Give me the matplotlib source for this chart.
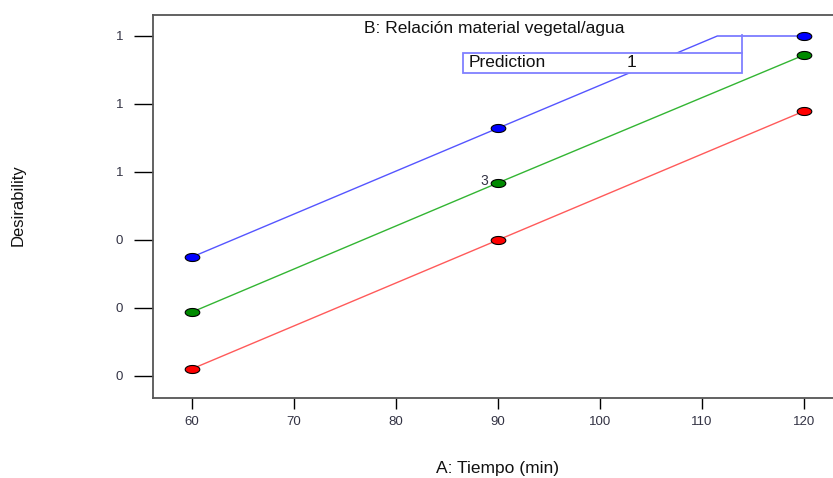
import numpy as np
import matplotlib
matplotlib.use("Agg")
import matplotlib.pyplot as plt
from matplotlib.path import Path
from matplotlib.patches import Rectangle

plt.rcParams['font.family'] = ['Liberation Sans', 'DejaVu Sans']

# Data
x_pts = [60, 90, 120]
blue_x = [60, 90, 111.5, 120]
blue_y = [0.35, 0.729, 1.0, 1.0]
green_x = [60, 90, 120]
green_y = [0.188, 0.568, 0.944]
red_x = [60, 90, 120]
red_y = [0.021, 0.40, 0.779]
xticks = [60, 70, 80, 90, 100, 110, 120]
yticks = [0.0, 0.2, 0.4, 0.6, 0.8, 1.0]
ytick_labels = ["0", "0", "0", "1", "1", "1"]
title = "B: Relación material vegetal/agua"
pred_label = "Prediction"
pred_value = "1"
design_count = "3"

W, H = 833, 478
fig = plt.figure(figsize=(W / 100, H / 100), dpi=100)
left, right, top, bottom = 153, 836, 15, 397.5
ax = fig.add_axes([left / W, 1 - bottom / H, (right - left) / W, (bottom - top) / H])

# ellipse marker
t = np.linspace(0, 2 * np.pi, 60)
ell = Path(np.column_stack([np.cos(t), 0.55 * np.sin(t)]), closed=True)

ms = 10.5
ax.plot(red_x, red_y, color='#ff5a5a', lw=1.0, zorder=2)
ax.plot(red_x, red_y, ls='none', marker=ell, ms=ms, mfc='#ff0000', mec='black', mew=0.8, zorder=5)
ax.plot(green_x, green_y, color='#33b533', lw=1.0, zorder=2)
ax.plot(green_x, green_y, ls='none', marker=ell, ms=ms, mfc='#008a00', mec='black', mew=0.8, zorder=5)
ax.plot(blue_x, blue_y, color='#5555ff', lw=1.0, zorder=2)
ax.plot([blue_x[i] for i in (0, 1, 3)], [blue_y[i] for i in (0, 1, 3)], ls='none',
        marker=ell, ms=ms, mfc='#0000ff', mec='black', mew=0.8, zorder=5)

# x/y limits so that 60 -> px 192, 120 -> px 804 ; 0 -> px 376, 1 -> px 36
px_per_x = (804 - 192) / 60
xmin = 60 - (192 - left) / px_per_x
xmax = 120 + (right - 804) / px_per_x
px_per_y = (376 - 36) / 1.0
ymin = 0 - (bottom - 376) / px_per_y
ymax = 1 + (36 - top) / px_per_y
ax.set_xlim(xmin, xmax)
ax.set_ylim(ymin, ymax)

ax.set_xticks(xticks)
ax.set_xticklabels([str(v) for v in xticks])
ax.set_yticks(yticks)
ax.set_yticklabels(ytick_labels)
ax.tick_params(axis='x', length=8, width=1.0, colors='black', labelcolor='#333344', labelsize=9.5, pad=5)
ax.tick_params(axis='y', length=13.5, width=1.0, colors='black', labelcolor='#333344', labelsize=9.5, pad=8)
for s in ax.spines.values():
    s.set_color('#555555')
    s.set_linewidth(1.3)

ax.text(0.5, 1 - (28 - top) / (bottom - top), title, transform=ax.transAxes,
        ha='center', va='center', fontsize=12.5, color='#111111')

# Prediction box (data coords from pixels)
def px2x(px):
    return xmin + (px - left) / px_per_x

def py2y(py):
    return ymin + (bottom - py) / px_per_y

bx0, bx1, by0, by1 = px2x(462.5), px2x(742), py2y(72.5), py2y(52.5)
ax.add_patch(Rectangle((bx0, by0), bx1 - bx0, by1 - by0, facecolor='white',
                       edgecolor='#8080ff', lw=1.3, zorder=4))
ax.plot([bx1, bx1], [by1, py2y(34.5)], color='#8080ff', lw=1.3, zorder=4)
ax.text(px2x(469), (by0 + by1) / 2, pred_label, ha='left', va='center', fontsize=12.5, color='#111111', zorder=6)
ax.text(px2x(632), (by0 + by1) / 2, pred_value, ha='center', va='center', fontsize=12.5, color='#111111', zorder=6)

ax.text(px2x(488), green_y[1] + 0.005, design_count, ha='right', va='center', fontsize=10, color='#333344', zorder=6)

fig.text(497 / W, 1 - 468 / H, "A: Tiempo (min)", ha='center', va='center', fontsize=12.5, color='#111111')
fig.text(18 / W, 1 - 205 / H, "Desirability", ha='center', va='center', rotation=90, fontsize=12, color='#111111')

fig.savefig("out.png", dpi=100)
